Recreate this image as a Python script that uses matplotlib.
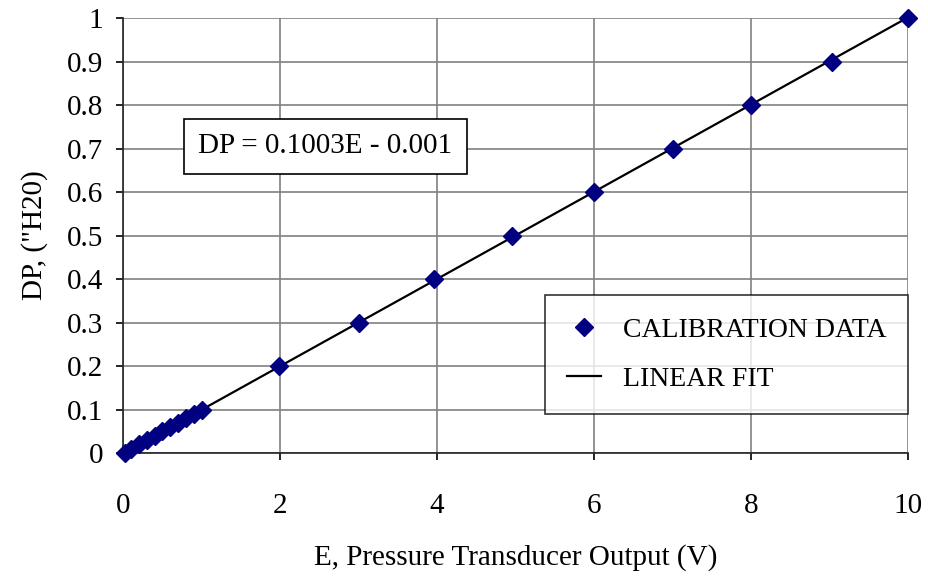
import matplotlib
matplotlib.use("Agg")
import matplotlib.pyplot as plt
import numpy as np

# calibration points
E_VOLTS = [0.02, 0.1, 0.2, 0.3, 0.41, 0.5, 0.6, 0.7, 0.8, 0.9, 1.01,
           1.98, 3.0, 3.96, 4.95, 6.0, 7.0, 8.0, 9.03, 10.0]
DP_INH2O = [0.0, 0.01, 0.02, 0.03, 0.04, 0.05, 0.06, 0.07, 0.08, 0.09, 0.1,
            0.2, 0.3, 0.4, 0.5, 0.6, 0.7, 0.8, 0.9, 1.0]
FIT_SLOPE = 0.1003
FIT_OFFSET = -0.001
X_TICKS = [0, 2, 4, 6, 8, 10]
Y_TICKS = [0, 0.1, 0.2, 0.3, 0.4, 0.5, 0.6, 0.7, 0.8, 0.9, 1]

plt.rcParams["font.family"] = ["Liberation Serif", "DejaVu Serif"]

fig = plt.figure(figsize=(9.29, 5.81), dpi=100)
ax = fig.add_axes([0.1324, 0.2203, 0.8455, 0.7487])

xfit = np.array([0, 10])
ax.plot(xfit, FIT_SLOPE * xfit + FIT_OFFSET, color="black", lw=1.6,
        label="LINEAR FIT", zorder=3)
ax.plot(E_VOLTS, DP_INH2O, linestyle="none", marker="D", ms=9.5,
        color="#000080", label="CALIBRATION DATA", zorder=4, clip_on=False)

ax.set_xlim(0, 10)
ax.set_ylim(0, 1)
ax.set_xticks(X_TICKS)
ax.set_xticklabels([str(v) for v in X_TICKS])
ax.set_yticks(Y_TICKS)
ax.set_yticklabels(["0", "0.1", "0.2", "0.3", "0.4", "0.5", "0.6", "0.7",
                    "0.8", "0.9", "1"])
ax.grid(True, color="#808080", lw=1.2)
ax.set_axisbelow(True)
for s in ["top", "right"]:
    ax.spines[s].set_visible(False)
for s in ["left", "bottom"]:
    ax.spines[s].set_linewidth(1.2)
    ax.spines[s].set_color("#222222")
ax.tick_params(direction="out", length=5, width=1.2, labelsize=21, pad=9)
ax.tick_params(axis="x", pad=24)

ax.set_xlabel("E, Pressure Transducer Output (V)", fontsize=21, labelpad=18)
ax.set_ylabel("DP, (\"H20)", fontsize=21, labelpad=14)

ax.text(0.96, 0.705, "DP = 0.1003E - 0.001", fontsize=21, va="center",
        bbox=dict(boxstyle="square,pad=0.5", fc="white", ec="black", lw=1.2))

leg = ax.legend(handles=ax.get_lines()[::-1], loc="lower right",
                bbox_to_anchor=(1.0, 0.09), fontsize=20, frameon=True,
                fancybox=False, edgecolor="black", borderpad=0.8,
                labelspacing=0.85, handlelength=1.2, borderaxespad=0)
leg.get_frame().set_linewidth(1.2)

fig.savefig("out.png", dpi=100)
